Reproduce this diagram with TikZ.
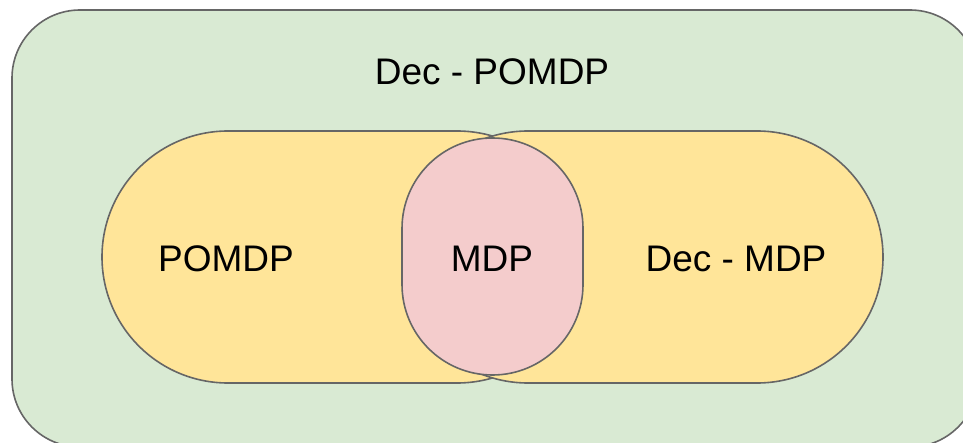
\documentclass[tikz,border=0pt]{standalone}
\usepackage{xcolor}
\usepackage{fontspec}
\setmainfont{Liberation Sans}
\usetikzlibrary{positioning}

\definecolor{decgreen}{HTML}{D9EAD3}
\definecolor{pomyellow}{HTML}{FFE599}
\definecolor{mdppink}{HTML}{F4CCCC}
\definecolor{edgegray}{HTML}{666666}

\tikzset{
    region/.style={draw=edgegray, line width=1.6pt},
    lbl/.style={font=\fontsize{37}{44}\selectfont, inner sep=0pt}
}

\begin{document}
\begin{tikzpicture}[x=1pt, y=-1pt]
    \useasboundingbox (0,0) rectangle (963,443);
    \clip (0,0) rectangle (963,443);

    % outer set
    \draw [region, fill=decgreen, rounded corners=68pt] (12,10) rectangle (978,447);

    % the two overlapping sets
    \draw [region, fill=pomyellow, rounded corners=126pt] (102,131) rectangle (583,383);
    \draw [region, fill=pomyellow, rounded corners=126pt] (402,131) rectangle (883,383);

    % intersection
    \draw [region, fill=mdppink, rounded corners=90.5pt] (402,138) rectangle (583,375);

    \node [lbl] (decpomdp) at (492,72) {Dec - POMDP};
    \node [lbl] (pomdp) at (226,259) {POMDP};
    \node [lbl] (mdp) at (492,259) {MDP};
    \node [lbl] (decmdp) at (736,259) {Dec - MDP};
\end{tikzpicture}
\end{document}
